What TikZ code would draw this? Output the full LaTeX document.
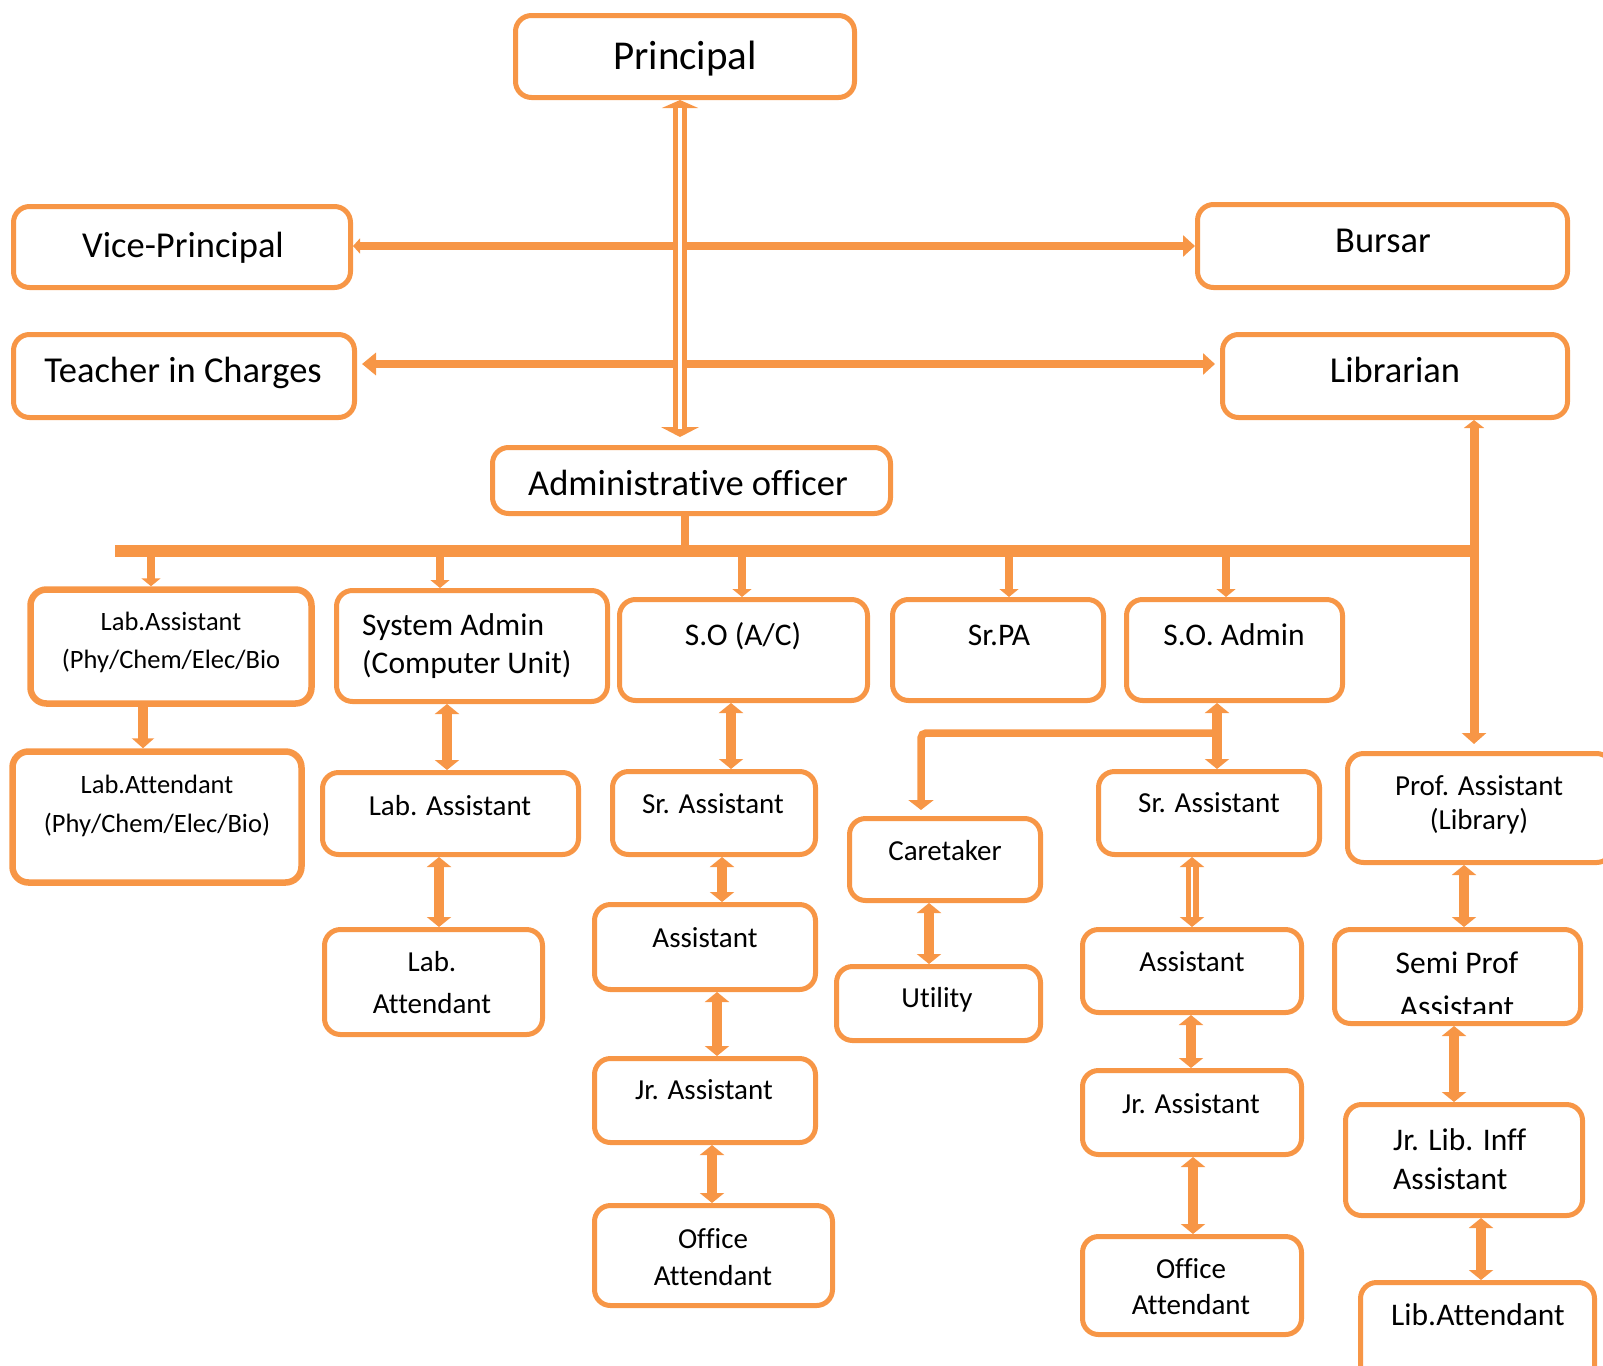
\documentclass[tikz,border=0pt]{standalone}
\usepackage{fontspec}
\setmainfont{Carlito}[Ligatures=NoCommon]
\usetikzlibrary{arrows.meta}
\definecolor{org}{HTML}{F79646}
\newcommand{\mkbox}[6][]{\node[box,#1,minimum width={#5-#3-5},minimum height={#6-#4-5}] (#2) at ({(#3+#5)/2},{(#4+#6)/2}) {};}
\begin{document}
\begin{tikzpicture}[x=1pt,y=-1pt,
  box/.style={draw=org,line width=5pt,rounded corners=16pt,fill=white,inner sep=0pt},
  lbl/.style={anchor=base,inner sep=0pt,text=black},
  fA/.style={font=\fontsize{41}{49}\selectfont},
  fB/.style={font=\fontsize{36.5}{44}\selectfont},
  fC/.style={font=\fontsize{31.5}{38}\selectfont},
  fD/.style={font=\fontsize{29}{35}\selectfont},
  fE/.style={font=\fontsize{26.5}{32}\selectfont},
  vlink/.style={draw=org,line width=10pt,{Triangle[width=24pt,length=10pt]}-{Triangle[width=24pt,length=10pt]}},
  hlink/.style={draw=org,line width=8pt},
  drop/.style={draw=org,line width=8pt,-{Triangle[width=19pt,length=8pt]}},
]
\useasboundingbox (0,0) rectangle (1603,1365);
\clip (0,0) rectangle (1603,1365);

% boxes
\mkbox{P}{513}{13}{857}{100}
\mkbox{VP}{11}{204}{353}{290}
\mkbox{Bu}{1195}{202}{1570}{290}
\mkbox{TIC}{11}{332}{357}{420}
\mkbox{Lib}{1220}{332}{1570}{420}
\mkbox{AO}{490}{445}{893}{516}
\mkbox[line width=6.5pt]{LA}{28}{587}{314}{706}
\mkbox{SA}{334}{588}{610}{704}
\mkbox{SOAC}{617}{597}{870}{703}
\mkbox{SPA}{890}{597}{1106}{703}
\mkbox{SOA}{1124}{597}{1345}{703}
\mkbox[line width=6.5pt]{LAt}{10}{749}{304}{885}
\mkbox{LAs}{320}{770}{581}{857}
\mkbox{SrA1}{610}{769}{818}{857}
\mkbox{CT}{847}{816}{1043}{903}
\mkbox{SrA2}{1096}{769}{1322}{857}
\mkbox{PA}{1345}{751}{1615}{865}
\mkbox{LAd}{322}{927}{545}{1037}
\mkbox{As1}{592}{902}{818}{992}
\mkbox{Ut}{834}{964}{1043}{1043}
\mkbox{As2}{1080}{927}{1304}{1015}
\mkbox{SPr}{1332}{927}{1583}{1026}
\mkbox{JA1}{592}{1056}{818}{1145}
\mkbox{JA2}{1080}{1068}{1304}{1157}
\mkbox{JL}{1343}{1102}{1585}{1218}
\mkbox{OA1}{592}{1203}{835}{1308}
\mkbox{OA2}{1080}{1234}{1304}{1337}
\mkbox{LAtt}{1358}{1280}{1597}{1400}

% texts
\node[lbl,fA] (tP) at (685,69) {Principal};
\node[lbl,fB] (tVP) at (183,257) {Vice-Principal};
\node[lbl,fB] (tBu) at (1383,252) {Bursar};
\node[lbl,fB] (tTIC) at (183,382) {Teacher in Charges};
\node[lbl,fB] (tLib) at (1395,382) {Librarian};
\node[lbl,fB] (tAO) at (688,495) {Administrative officer};
\node[lbl,fE] (tLA1) at (171,630) {Lab.Assistant};
\node[lbl,fE] (tLA2) at (171,668) {(Phy/Chem/Elec/Bio};
\node[lbl,fC,anchor=base west] (tSA1) at (362,635) {System Admin};
\node[lbl,fC,anchor=base west] (tSA2) at (362,673) {(Computer Unit)};
\node[lbl,fC] (tSOAC) at (743,645) {S.O (A/C)};
\node[lbl,fC] (tSPA) at (999,645) {Sr.PA};
\node[lbl,fC] (tSOA) at (1234,645) {S.O. Admin};
\node[lbl,fE] (tLAt1) at (157,793) {Lab.Attendant};
\node[lbl,fE] (tLAt2) at (157,832) {(Phy/Chem/Elec/Bio)};
\node[lbl,fD] (tLAs) at (450,815) {Lab. Assistant};
\node[lbl,fD] (tSrA1) at (713,813) {Sr. Assistant};
\node[lbl,fD] (tCT) at (945,860) {Caretaker};
\node[lbl,fD] (tSrA2) at (1209,812) {Sr. Assistant};
\node[lbl,fD] (tPA1) at (1479,795) {Prof. Assistant};
\node[lbl,fD] (tPA2) at (1479,829) {(Library)};
\node[lbl,fD] (tLAd1) at (432,971) {Lab.};
\node[lbl,fD] (tLAd2) at (432,1013) {Attendant};
\node[lbl,fD] (tAs1) at (705,947) {Assistant};
\node[lbl,fD] (tUt) at (937,1007) {Utility};
\node[lbl,fD] (tAs2) at (1192,971) {Assistant};
\node[lbl,fC] (tSPr1) at (1457,973) {Semi Prof};
\begin{scope}
\clip (1337,932) rectangle (1578,1013);
\node[lbl,fC] (tSPr2) at (1457,1017) {Assistant};
\end{scope}
\node[lbl,fD] (tJA1) at (704,1099) {Jr. Assistant};
\node[lbl,fD] (tOA1a) at (713,1248) {Office};
\node[lbl,fD] (tOA1b) at (713,1285) {Attendant};
\node[lbl,fD] (tJA2) at (1191,1113) {Jr. Assistant};
\node[lbl,fD] (tOA2a) at (1191,1278) {Office};
\node[lbl,fD] (tOA2b) at (1191,1314) {Attendant};
\node[lbl,fC,anchor=base west] (tJL1) at (1393,1150) {Jr. Lib. Inff};
\node[lbl,fC,anchor=base west] (tJL2) at (1393,1189) {Assistant};
\node[lbl,fC] (tLAtt) at (1478,1325) {Lib.Attendant};

% top horizontal links
\draw[hlink,{Triangle[width=15pt,length=7pt]}-{Triangle[width=21pt,length=12pt]}] (VP.east |- 0,246) -- (Bu.west |- 0,246);
\draw[hlink,{Triangle[width=22pt,length=14pt]}-{Triangle[width=21pt,length=12pt]},shorten <=5pt,shorten >=5pt] (TIC.east |- 0,364) -- (Lib.west |- 0,364);

% principal double line
\draw[org,line width=14pt,{Triangle[width=36pt,length=8pt]}-{Triangle[width=38pt,length=10pt]},shorten >=8pt] (P.south -| 680,0) -- (AO.north -| 680,0);
\draw[white,line width=4.5pt,shorten <=8pt,shorten >=16pt] (P.south -| 680,0) -- (AO.north -| 680,0);

% bus
\coordinate (busL) at (115,551);
\coordinate (busR) at (1479,551);
\draw[org,line width=12pt] (busL) -- (busR);
\draw[org,line width=8pt] (AO.south -| 685,0) -- (busL -| 685,0);
\draw[drop] (busL -| 151,0) -- (LA.north -| 151,0);
\draw[drop] (busL -| 440,0) -- (SA.north -| 440,0);
\draw[drop] (busL -| 742,0) -- (SOAC.north -| 742,0);
\draw[drop] (busL -| 1009,0) -- (SPA.north -| 1009,0);
\draw[drop] (busL -| 1226,0) -- (SOA.north -| 1226,0);

% librarian vertical
\draw[org,line width=9pt,{Triangle[width=20pt,length=8pt]}-{Triangle[width=24pt,length=11pt]},shorten >=7pt] (Lib.south -| 1474,0) -- (PA.north -| 1474,0);

% vertical links
\draw[org,line width=10pt,-{Triangle[width=22pt,length=10pt]}] (LA.south -| 143,0) -- (LAt.north -| 143,0);
\draw[vlink] (SA.south -| 447,0) -- (LAs.north -| 447,0);
\draw[vlink] (LAs.south -| 439,0) -- (LAd.north -| 439,0);
\draw[vlink] (SOAC.south -| 731,0) -- (SrA1.north -| 731,0);
\draw[vlink] (SrA1.south -| 722,0) -- (As1.north -| 722,0);
\draw[vlink] (As1.south -| 717,0) -- (JA1.north -| 717,0);
\draw[vlink] (JA1.south -| 712,0) -- (OA1.north -| 712,0);
\draw[vlink] (SOA.south -| 1217,0) -- (SrA2.north -| 1217,0);
\draw[vlink] (CT.south -| 929,0) -- (Ut.north -| 929,0);
\draw[org,line width=13pt,{Triangle[width=24pt,length=10pt]}-{Triangle[width=24pt,length=10pt]}] (SrA2.south -| 1192,0) -- (As2.north -| 1192,0);
\draw[white,line width=2.5pt,shorten <=10pt,shorten >=10pt] (SrA2.south -| 1192,0) -- (As2.north -| 1192,0);
\draw[vlink] (As2.south -| 1191,0) -- (JA2.north -| 1191,0);
\draw[vlink] (JA2.south -| 1193,0) -- (OA2.north -| 1193,0);
\draw[vlink] (PA.south -| 1464,0) -- (SPr.north -| 1464,0);
\draw[vlink] (SPr.south -| 1454,0) -- (JL.north -| 1454,0);
\draw[vlink] (JL.south -| 1481,0) -- (LAtt.north -| 1481,0);

% caretaker branch
\coordinate (brR) at (1217,733);
\draw[org,line width=7.5pt,rounded corners=5pt,-{Triangle[width=25pt,length=10pt]},shorten >=6pt] (brR) -- (921,733) -- (CT.north -| 921,0);
\end{tikzpicture}
\end{document}
